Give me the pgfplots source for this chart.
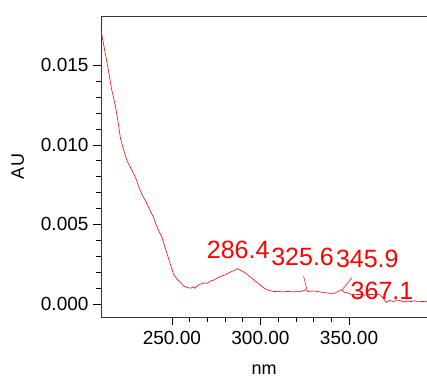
\documentclass[border=0pt]{standalone}
\usepackage{pgfplots}
\pgfplotsset{compat=1.18}
\usepackage{fontspec}
\setmainfont{Liberation Sans}
\begin{document}
\begin{tikzpicture}
\path[use as bounding box] (0pt,0pt) rectangle (427pt,375pt);
\begin{axis}[
  at={(101pt,58pt)}, anchor=south west,
  width=326pt, height=301pt, scale only axis,
  xmin=210, xmax=394, ymin=-0.00082, ymax=0.0181,
  axis line style={draw=black!80, line width=0.8pt},
  axis y line*=left, axis x line*=bottom,
  xtick={250,300,350}, minor x tick num=4,
  ytick={0,0.005,0.01,0.015}, minor y tick num=4,
  tick align=outside,
  major tick length=8pt, minor tick length=5pt,
  tick style={black, line width=0.7pt},
  xticklabel={\pgfmathprintnumber[fixed,fixed zerofill,precision=2]{\tick}},
  yticklabel={\pgfmathprintnumber[fixed,fixed zerofill,precision=3]{\tick}},
  scaled y ticks=false,
  /pgf/number format/assume math mode=true,
  tick label style={font=\fontsize{19}{22}\selectfont, black},
  xticklabel style={yshift=-3pt},
  yticklabel style={xshift=-1pt},
  xlabel={nm}, ylabel={AU},
  label style={font=\fontsize{18}{21}\selectfont},
  xlabel style={yshift=-13pt},
  ylabel style={yshift=10pt},
  clip=false,
]
% top frame line
\draw[black!80, line width=0.8pt] (axis cs:210,0.0181) -- (axis cs:394,0.0181);
\addplot[red, line width=0.6pt] coordinates {
(210,0.01720) (212,0.01600) (214,0.01480) (216,0.01350) (218,0.01250)
(219,0.01190) (221,0.01040) (223,0.00960) (224.5,0.00906) (226,0.00870)
(228,0.00830) (230,0.00780) (232,0.00717) (234,0.00670) (236,0.00630)
(238,0.00580) (239.5,0.00549) (241,0.00500) (243,0.00450) (244.3,0.00423)
(246,0.00360) (248,0.00290) (250,0.00220) (251,0.00185) (253,0.00155)
(255,0.00132) (257,0.00110) (259,0.00102) (261,0.00100) (262,0.00108)
(263,0.00098) (264,0.00112) (265,0.00118) (266,0.00124) (268,0.00132)
(270,0.00130) (272,0.00145) (274,0.00152) (276,0.00165) (278,0.00175)
(280,0.00182) (282,0.00195) (284,0.00205) (286,0.00215) (287,0.00222)
(288,0.00215) (290,0.00205) (292,0.00190) (294,0.00172) (296,0.00155)
(298,0.00135) (300,0.00118) (302,0.00100) (304,0.00088) (306,0.00082)
(308,0.00078) (310,0.00080) (312,0.00076) (314,0.00077) (316,0.00079)
(318,0.00076) (320,0.00077) (322,0.00078) (324,0.00082) (325.6,0.00090)
(327,0.00078) (329,0.00082) (331,0.00080) (334,0.00075) (337,0.00070)
(340,0.00066) (342,0.00068) (344,0.00080) (345.9,0.00090) (347,0.00075)
(349,0.00070) (351,0.00062) (353,0.00058) (356,0.00060) (359,0.00055)
(362,0.00060) (365,0.00058) (367.1,0.00062) (369,0.00040) (371,0.00010)
(373,0.00022) (375,0.00015) (377,0.00025) (379,0.00020) (381,0.00012)
(383,0.00018) (385,0.00015) (387,0.00020) (389,0.00013) (391,0.00016)
(394,0.00014)
};
% peak annotations
\begin{scope}[every node/.style={red, inner sep=0pt, font=\fontsize{25}{28}\selectfont}]
\node at (axis cs:287.4,0.00340) {286.4};
\node at (axis cs:323.8,0.00297) {325.6};
\node at (axis cs:360.3,0.00283) {345.9};
\node at (axis cs:368.6,0.00083) {367.1};
\end{scope}
\draw[red, line width=0.5pt] (axis cs:324.3,0.00176) -- (axis cs:326.2,0.00092);
\draw[red, line width=0.5pt] (axis cs:346.0,0.00088) -- (axis cs:351.6,0.00164);
\end{axis}
\end{tikzpicture}
\end{document}
